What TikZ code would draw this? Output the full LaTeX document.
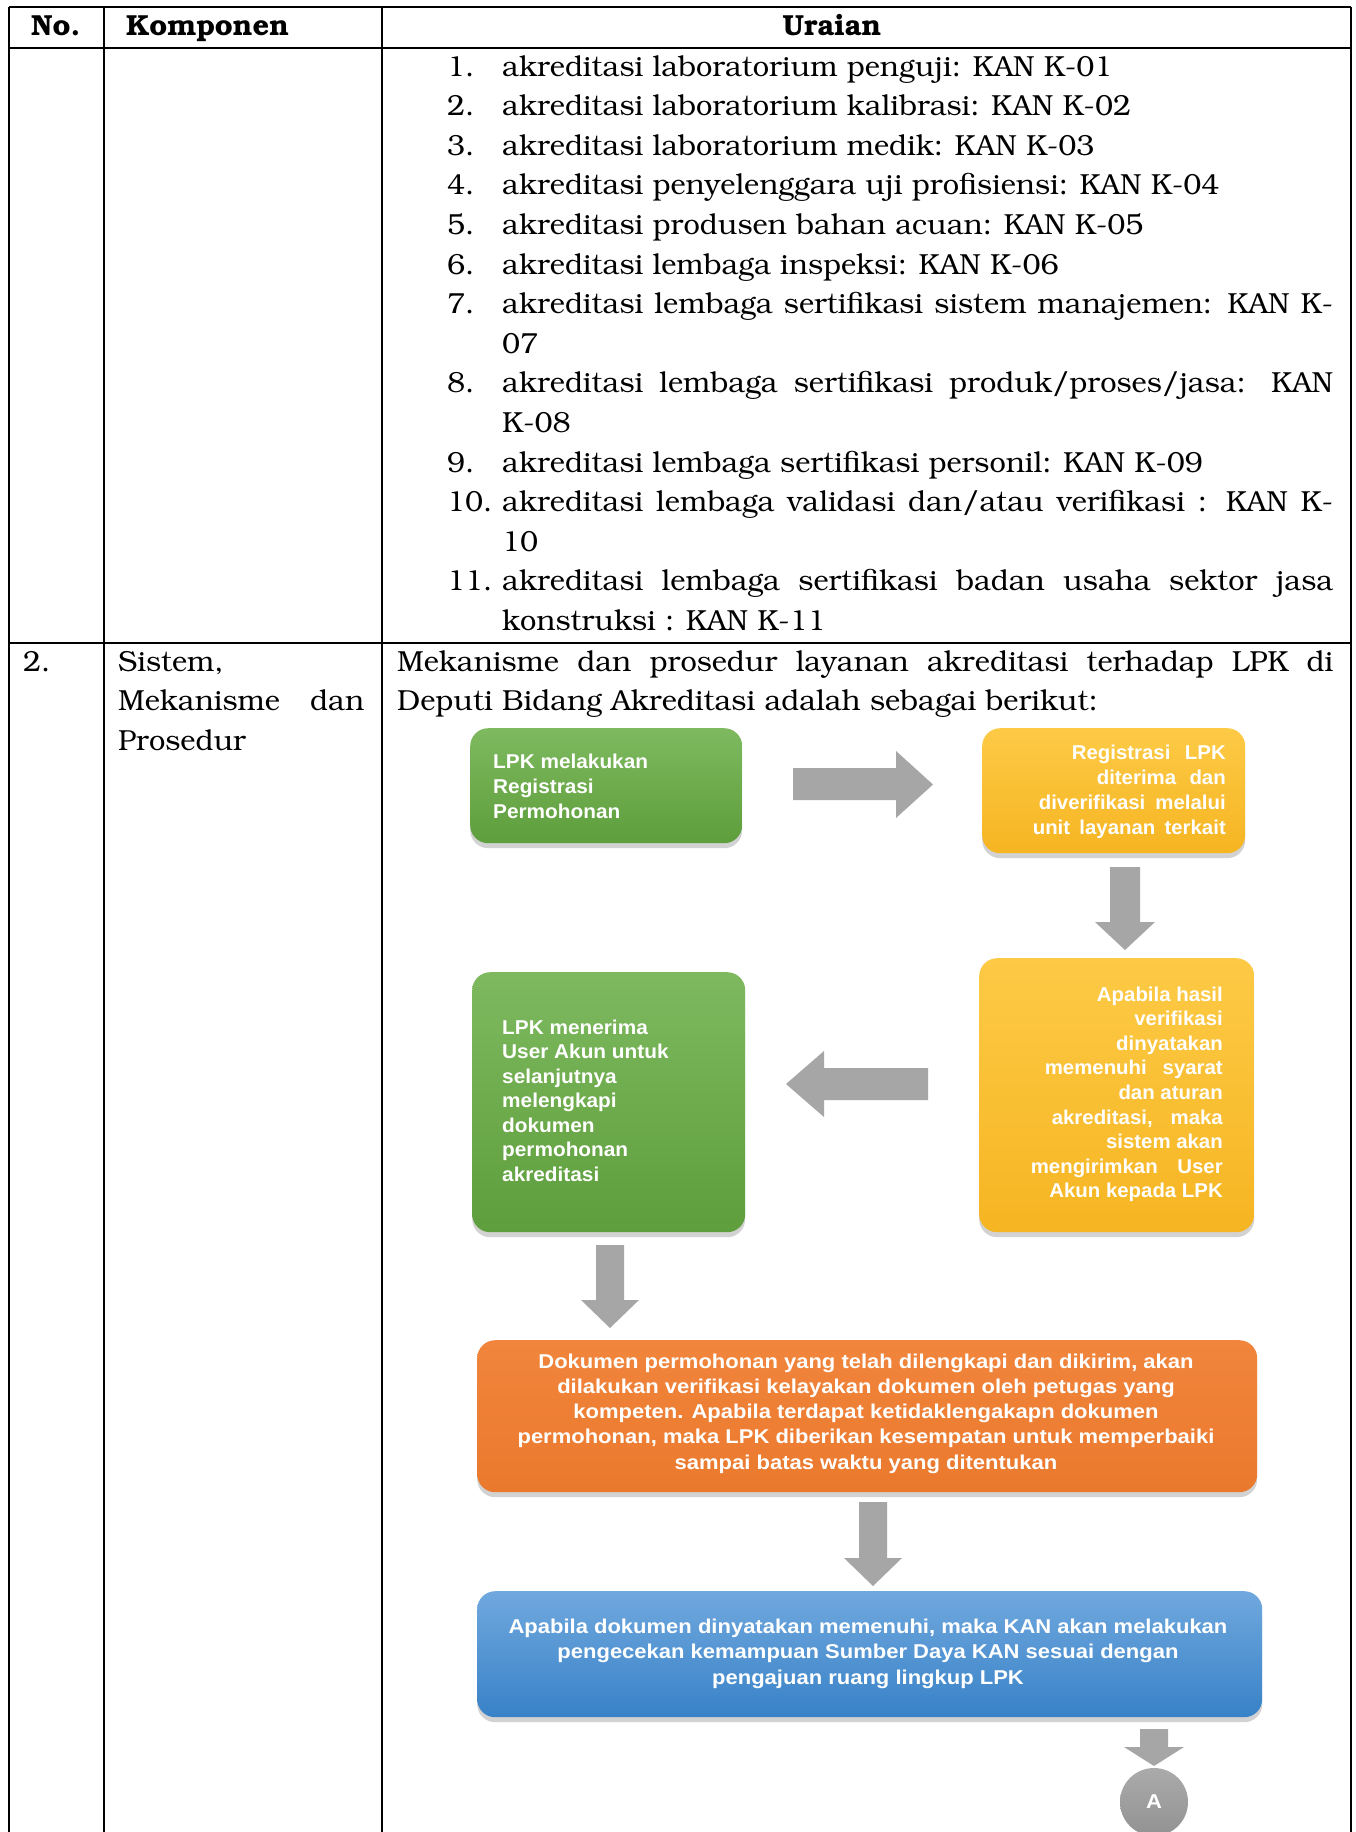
\documentclass[tikz,border=0pt]{standalone}
\usepackage[T1]{fontenc}
\usepackage{fontspec}
\newfontfamily\fcf{Liberation Sans}[FakeStretch=1.10]
\newfontfamily\fcfa{Liberation Sans}[FakeStretch=1.04]
\newfontfamily\fcfb{Liberation Sans}[FakeStretch=1.02]
\newcommand\bkm{\fontencoding{T1}\fontfamily{pbk}\selectfont}
\usetikzlibrary{shadows}
\definecolor{grnA}{RGB}{126,185,95}
\definecolor{grnB}{RGB}{94,158,60}
\definecolor{yelA}{RGB}{253,202,70}
\definecolor{yelB}{RGB}{246,181,34}
\definecolor{orgA}{RGB}{241,133,60}
\definecolor{orgB}{RGB}{234,121,45}
\definecolor{bluA}{RGB}{112,168,222}
\definecolor{bluB}{RGB}{56,130,199}
\definecolor{agray}{RGB}{166,166,166}
\tikzset{
  tx/.style={inner sep=0pt, anchor=base west, font=\bkm\fontsize{29}{35}\selectfont},
  txb/.style={inner sep=0pt, anchor=base west, font=\bkm\bfseries\fontsize{29}{35}\selectfont},
  fc/.style={inner sep=0pt, text=white, font=\fcf\bfseries\fontsize{20}{24}\selectfont},
  fcA/.style={inner sep=0pt, text=white, font=\fcfa\bfseries\fontsize{20}{24}\selectfont},
  fcB/.style={inner sep=0pt, text=white, font=\fcfb\bfseries\fontsize{20}{24}\selectfont},
  fbox/.style={rounded corners=18pt, inner sep=0pt, anchor=north west,
     drop shadow={opacity=0.35, shadow xshift=0pt, shadow yshift=-5pt}},
  tbl/.style={line width=2.4pt, black},
  arr/.style={fill=agray},
}
\begin{document}
\begin{tikzpicture}[x=1pt,y=-1pt]
\fill[white] (0,0) rectangle (1356,1832);
\useasboundingbox (0,0) rectangle (1356,1832);

% table
\draw[tbl] (9,7) -- (1351,7);
\draw[tbl] (9,48) -- (1351,48);
\draw[tbl] (9,643) -- (1351,643);
\draw[tbl] (9,7) -- (9,1832);
\draw[tbl] (104,7) -- (104,1832);
\draw[tbl] (382,7) -- (382,1832);
\draw[tbl] (1351,7) -- (1351,1832);

% header
\node[txb] (hno) at (31,35) {No.};
\node[txb] (hkomp) at (126,35) {Komponen};
\node[txb, anchor=base] (hur) at (832,35) {Uraian};

% list
\node[tx] (n1) at (447,76) {1.};
\node[tx] (t1) at (502,76) {akreditasi laboratorium penguji: KAN K-01};
\node[tx] (n2) at (447,115.6) {2.};
\node[tx] (t2) at (502,115.6) {akreditasi laboratorium kalibrasi: KAN K-02};
\node[tx] (n3) at (447,155.2) {3.};
\node[tx] (t3) at (502,155.2) {akreditasi laboratorium medik: KAN K-03};
\node[tx] (n4) at (447,194.8) {4.};
\node[tx] (t4) at (502,194.8) {akreditasi penyelenggara uji profisiensi: KAN K-04};
\node[tx] (n5) at (447,234.4) {5.};
\node[tx] (t5) at (502,234.4) {akreditasi produsen bahan acuan: KAN K-05};
\node[tx] (n6) at (447,274) {6.};
\node[tx] (t6) at (502,274) {akreditasi lembaga inspeksi: KAN K-06};
\node[tx] (n7) at (447,313.6) {7.};
\node[tx] (t7) at (502,313.6) {\makebox[831pt][s]{akreditasi lembaga sertifikasi sistem manajemen: KAN K-}};
\node[tx] (t7b) at (502,353.2) {07};
\node[tx] (n8) at (447,392.8) {8.};
\node[tx] (t8) at (502,392.8) {\makebox[831pt][s]{akreditasi lembaga sertifikasi produk/proses/jasa: KAN}};
\node[tx] (t8b) at (502,432.4) {K-08};
\node[tx] (n9) at (447,472) {9.};
\node[tx] (t9) at (502,472) {akreditasi lembaga sertifikasi personil: KAN K-09};
\node[tx] (n10) at (447,511.6) {10.};
\node[tx] (t10) at (502,511.6) {\makebox[831pt][s]{akreditasi lembaga validasi dan/atau verifikasi : KAN K-}};
\node[tx] (t10b) at (502,551.2) {10};
\node[tx] (n11) at (447,590.8) {11.};
\node[tx] (t11) at (502,590.8) {\makebox[831pt][s]{akreditasi lembaga sertifikasi badan usaha sektor jasa}};
\node[tx] (t11b) at (502,630.4) {konstruksi : KAN K-11};

% row 2
\node[tx] (r2no) at (23,671) {2.};
\node[tx] (r2k1) at (118,671) {Sistem,};
\node[tx] (r2k2) at (118,710.6) {\makebox[246pt][s]{Mekanisme dan}};
\node[tx] (r2k3) at (118,750.2) {Prosedur};
\node[tx] (r2u1) at (397,671) {\makebox[936pt][s]{Mekanisme dan prosedur layanan akreditasi terhadap LPK di}};
\node[tx] (r2u2) at (397,710.6) {Deputi Bidang Akreditasi adalah sebagai berikut:};

% flowchart boxes
\node[fbox, top color=grnA, bottom color=grnB, minimum width=272pt, minimum height=115pt] (b1) at (470,728) {};
\node[fbox, top color=yelA, bottom color=yelB, minimum width=263pt, minimum height=125pt] (b2) at (982,728) {};
\node[fbox, top color=yelA, bottom color=yelB, minimum width=275pt, minimum height=274pt] (b3) at (979,958) {};
\node[fbox, top color=grnA, bottom color=grnB, minimum width=273pt, minimum height=260pt] (b4) at (472,972) {};
\node[fbox, top color=orgA, bottom color=orgB, minimum width=780pt, minimum height=152pt] (b5) at (477,1340) {};
\node[fbox, top color=bluA, bottom color=bluB, minimum width=785pt, minimum height=126pt] (b6) at (477,1591) {};

% arrows
\fill[arr] (793,768) -- (896,768) -- (896,751) -- (933,784.5) -- (896,818) -- (896,800) -- (793,800) -- cycle;
\fill[arr] (1110,867) -- (1140,867) -- (1140,922) -- (1155,922) -- (1125,950) -- (1095,922) -- (1110,922) -- cycle;
\fill[arr] (928,1068) -- (824,1068) -- (824,1051) -- (786,1084) -- (824,1117) -- (824,1100) -- (928,1100) -- cycle;
\fill[arr] (596,1245) -- (624,1245) -- (624,1300) -- (639,1300) -- (610,1328) -- (581,1300) -- (596,1300) -- cycle;
\fill[arr] (859,1502) -- (887,1502) -- (887,1558) -- (902,1558) -- (873,1586) -- (844,1558) -- (859,1558) -- cycle;
\fill[arr] (1140,1729) -- (1168,1729) -- (1168,1747) -- (1184,1747) -- (1154,1766) -- (1124,1747) -- (1140,1747) -- cycle;
\node[circle, minimum size=68pt, inner sep=0pt, top color=agray!95, bottom color=agray!88!black, fc] (cA) at (1154,1802) {A};

% box texts
\node[fcA, anchor=base west] (b1a) at (493,768) {LPK melakukan};
\node[fcA, anchor=base west] (b1b) at (493,793) {Registrasi};
\node[fcA, anchor=base west] (b1c) at (493,818) {Permohonan};

\node[fcB, anchor=base east] (b2a) at (1226,759) {\makebox[154pt][s]{Registrasi LPK}};
\node[fcB, anchor=base east] (b2b) at (1226,784) {\makebox[129pt][s]{diterima dan}};
\node[fcB, anchor=base east] (b2c) at (1226,809) {\makebox[187pt][s]{diverifikasi melalui}};
\node[fcB, anchor=base east] (b2d) at (1226,834) {\makebox[193pt][s]{unit layanan terkait}};

\node[fcB, anchor=base east] (b3a) at (1223,1001) {Apabila hasil};
\node[fcB, anchor=base east] (b3b) at (1223,1025.6) {verifikasi};
\node[fcB, anchor=base east] (b3c) at (1223,1050.2) {dinyatakan};
\node[fcB, anchor=base east] (b3d) at (1223,1074.8) {\makebox[178pt][s]{memenuhi syarat}};
\node[fcB, anchor=base east] (b3e) at (1223,1099.4) {dan aturan};
\node[fcB, anchor=base east] (b3f) at (1223,1124) {\makebox[171pt][s]{akreditasi, maka}};
\node[fcB, anchor=base east] (b3g) at (1223,1148.6) {sistem akan};
\node[fcB, anchor=base east] (b3h) at (1223,1173.2) {\makebox[192pt][s]{mengirimkan User}};
\node[fcB, anchor=base east] (b3i) at (1223,1197.8) {Akun kepada LPK};

\node[fcA, anchor=base west] (b4a) at (502,1034) {LPK menerima};
\node[fcA, anchor=base west] (b4b) at (502,1058.5) {User Akun untuk};
\node[fcA, anchor=base west] (b4c) at (502,1083) {selanjutnya};
\node[fcA, anchor=base west] (b4d) at (502,1107.5) {melengkapi};
\node[fcA, anchor=base west] (b4e) at (502,1132) {dokumen};
\node[fcA, anchor=base west] (b4f) at (502,1156.5) {permohonan};
\node[fcA, anchor=base west] (b4g) at (502,1181) {akreditasi};

\node[fc, anchor=base] (b5a) at (866,1368) {Dokumen permohonan yang telah dilengkapi dan dikirim, akan};
\node[fc, anchor=base] (b5b) at (866,1393.3) {dilakukan verifikasi kelayakan dokumen oleh petugas yang};
\node[fc, anchor=base] (b5c) at (866,1418.6) {kompeten. Apabila terdapat ketidaklengakapn dokumen};
\node[fc, anchor=base] (b5d) at (866,1443.9) {permohonan, maka LPK diberikan kesempatan untuk memperbaiki};
\node[fc, anchor=base] (b5e) at (866,1469.2) {sampai batas waktu yang ditentukan};

\node[fc, anchor=base] (b6a) at (868,1633) {Apabila dokumen dinyatakan memenuhi, maka KAN akan melakukan};
\node[fc, anchor=base] (b6b) at (868,1658.5) {pengecekan kemampuan Sumber Daya KAN sesuai dengan};
\node[fc, anchor=base] (b6c) at (868,1684) {pengajuan ruang lingkup LPK};
\end{tikzpicture}
\end{document}
